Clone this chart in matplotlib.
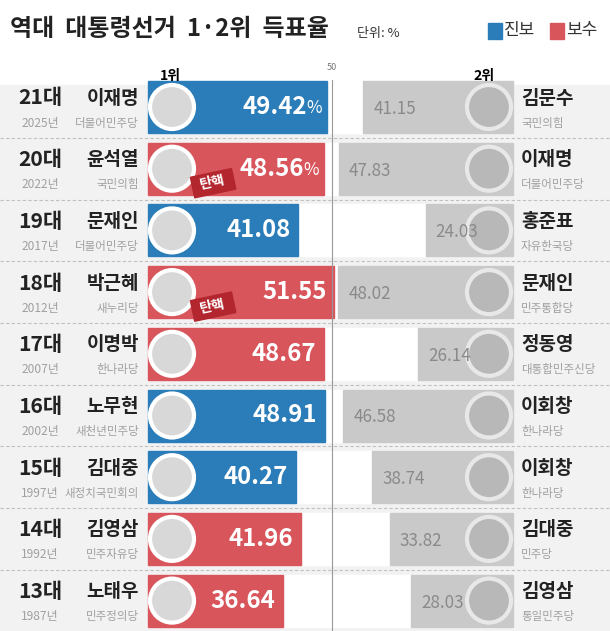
import matplotlib.pyplot as plt
from matplotlib.patches import Rectangle, Circle
import matplotlib.transforms as mtransforms
from matplotlib import font_manager

fams = {f.name for f in font_manager.fontManager.ttflist}
plt.rcParams['font.family'] = [f for f in ['Noto Sans CJK KR', 'Noto Sans CJK JP',
                                           'Noto Sans CJK SC', 'DejaVu Sans'] if f in fams]

# Data
terms = ['21대', '20대', '19대', '18대', '17대', '16대', '15대', '14대', '13대']
years = ['2025년', '2022년', '2017년', '2012년', '2007년', '2002년', '1997년', '1992년', '1987년']
win_names = ['이재명', '윤석열', '문재인', '박근혜', '이명박', '노무현', '김대중', '김영삼', '노태우']
win_parties = ['더불어민주당', '국민의힘', '더불어민주당', '새누리당', '한나라당',
               '새천년민주당', '새정치국민회의', '민주자유당', '민주정의당']
win_values = [49.42, 48.56, 41.08, 51.55, 48.67, 48.91, 40.27, 41.96, 36.64]
win_camp = ['진보', '보수', '진보', '보수', '보수', '진보', '진보', '보수', '보수']
impeached = [False, True, False, True, False, False, False, False, False]
run_names = ['김문수', '이재명', '홍준표', '문재인', '정동영', '이회창', '이회창', '김대중', '김영삼']
run_parties = ['국민의힘', '더불어민주당', '자유한국당', '민주통합당', '대통합민주신당',
               '한나라당', '한나라당', '민주당', '통일민주당']
run_values = [41.15, 47.83, 24.03, 48.02, 26.14, 46.58, 38.74, 33.82, 28.03]

camp_colors = {'진보': '#2a7db8', '보수': '#d9555c'}

fig = plt.figure(figsize=(6.1, 6.31), dpi=100)
ax = fig.add_axes([0, 0, 1, 1])
ax.set_xlim(0, 610)
ax.set_ylim(631, 0)
ax.axis('off')
fig.patch.set_facecolor('white')

def pt(px):
    return px * 0.72

# title and legend
ax.text(10, 29, '역대  대통령선거  1·2위  득표율', fontsize=pt(24), fontweight='bold',
        va='center', ha='left', color='#222222')
ax.text(357, 34, '단위: %', fontsize=pt(13), va='center', color='#333333')
ax.add_patch(Rectangle((488, 23), 14, 16, color=camp_colors['진보']))
ax.text(504, 30, '진보', fontsize=pt(17), va='center', color='#333333')
ax.add_patch(Rectangle((550, 23), 14, 16, color=camp_colors['보수']))
ax.text(566, 30, '보수', fontsize=pt(17), va='center', color='#333333')

ax.text(170, 76, '1위', fontsize=pt(14), fontweight='bold', ha='center', va='center')
ax.text(484, 76, '2위', fontsize=pt(14), fontweight='bold', ha='center', va='center')
ax.text(332, 68, '50', fontsize=pt(9), ha='center', va='center', color='#777777')

left0, kl = 157, 3.44
right0, kr = 513, 3.64
row0, step, bh = 107, 61.7, 52

ax.add_patch(Rectangle((0, 85), 610, 631 - 85, color='#f2f2f2', zorder=0))

for i in range(len(terms)):
    y = row0 + i * step
    if i > 0:
        ax.plot([0, 610], [y - step / 2, y - step / 2], ls=(0, (3, 2)), lw=0.8,
                color='#c0c0c0', zorder=1)
    ax.add_patch(Rectangle((148, y - bh / 2), right0 - 148, bh, color='white', zorder=1))
    # left texts
    ax.text(40, y - 9, terms[i], fontsize=pt(21), fontweight='bold', ha='center',
            va='center', color='#222222')
    ax.text(40, y + 16, years[i], fontsize=pt(12), ha='center', va='center', color='#a0a0a0')
    ax.text(139, y - 9, win_names[i], fontsize=pt(19), fontweight='bold', ha='right',
            va='center', color='#222222')
    ax.text(139, y + 16, win_parties[i], fontsize=pt(11.5), ha='right', va='center',
            color='#a0a0a0')
    # winner bar
    end = left0 + win_values[i] * kl
    ax.add_patch(Rectangle((148, y - bh / 2), end - 148, bh,
                           color=camp_colors[win_camp[i]], zorder=2))
    ax.add_patch(Circle((172, y), 22, facecolor='#d8d8d8', edgecolor='white', lw=3, zorder=3))
    if i < 2:
        ax.text(end - 5, y + 1, '%', fontsize=pt(17), color='white', ha='right',
                va='center', zorder=4)
        ax.text(end - 20, y, f'{win_values[i]:.2f}', fontsize=pt(24), fontweight='bold',
                color='white', ha='right', va='center', zorder=4)
    else:
        ax.text(end - 8, y, f'{win_values[i]:.2f}', fontsize=pt(24), fontweight='bold',
                color='white', ha='right', va='center', zorder=4)
    if impeached[i]:
        tr = mtransforms.Affine2D().rotate_deg_around(213, y + 14, -12) + ax.transData
        ax.add_patch(Rectangle((192, y + 4), 42, 21, color='#b3262e', zorder=5,
                               transform=tr))
        ax.text(213, y + 14, '탄핵', fontsize=pt(14), fontweight='bold', color='white',
                ha='center', va='center', rotation=12, zorder=6)
    # runner-up bar
    start = right0 - run_values[i] * kr
    ax.add_patch(Rectangle((start, y - bh / 2), right0 - start, bh, color='#c9c9c9', zorder=2))
    ax.text(start + 10, y + 2, f'{run_values[i]:.2f}', fontsize=pt(17), color='#8a8a8a',
            ha='left', va='center', zorder=4)
    ax.add_patch(Circle((489, y), 22, facecolor='#b8b8b8', edgecolor='#e8e8e8', lw=3, zorder=3))
    ax.text(521, y - 9, run_names[i], fontsize=pt(19), fontweight='bold', ha='left',
            va='center', color='#222222')
    ax.text(521, y + 16, run_parties[i], fontsize=pt(11.5), ha='left', va='center',
            color='#a0a0a0')

ax.plot([332, 332], [80, 631], color='#999999', lw=0.8, zorder=3)

plt.savefig('out.png', dpi=100)
plt.close()
